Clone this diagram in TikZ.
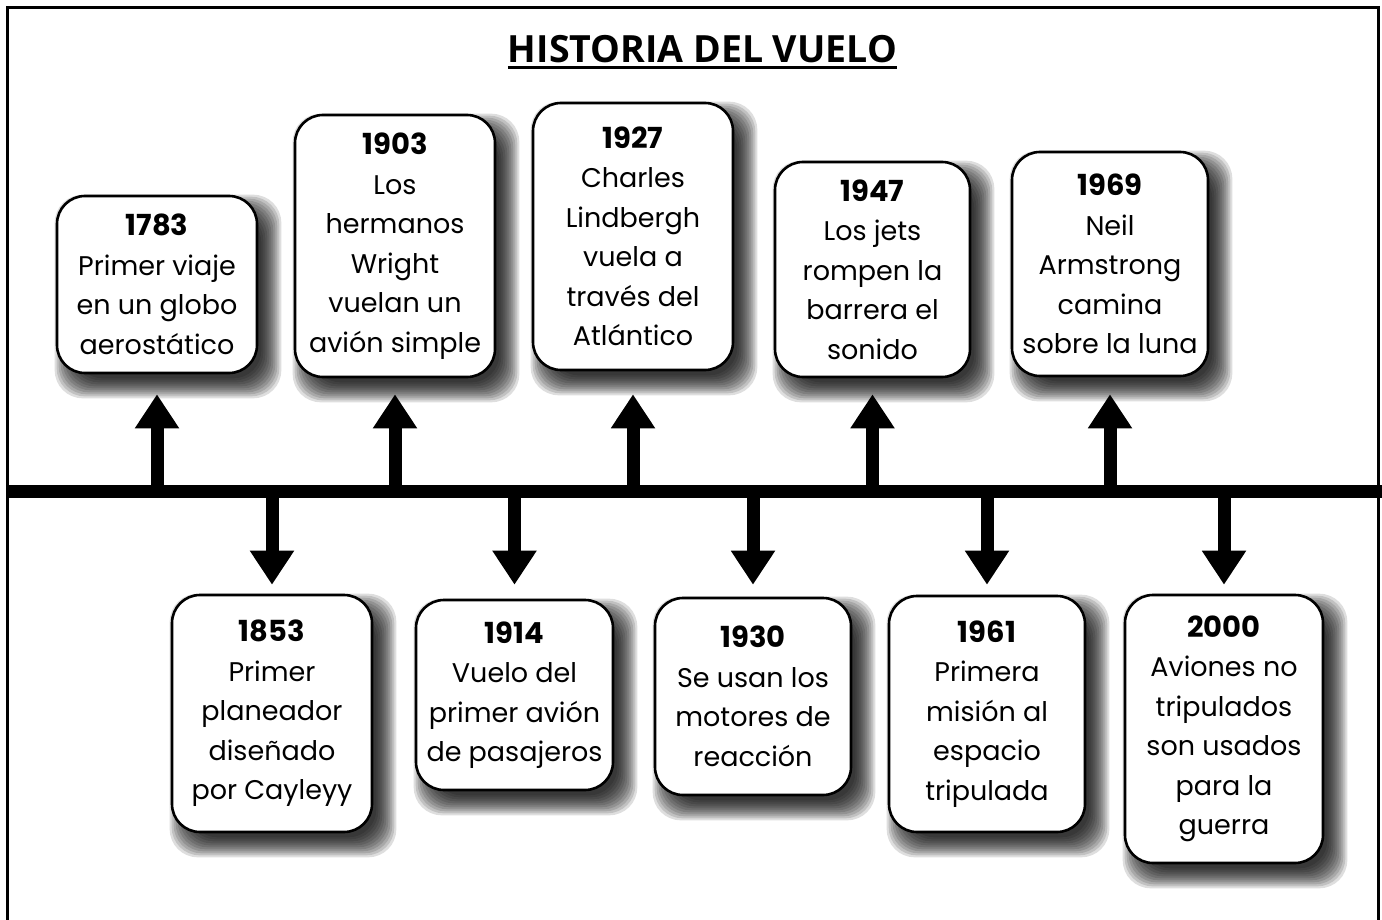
\documentclass[tikz,border=0pt]{standalone}
\usepackage{fontspec}
\setmainfont{Poppins}
\newfontfamily\titlefont{Open Sans}
\usetikzlibrary{arrows.meta}
\pgfdeclarelayer{bg}
\pgfsetlayers{bg,main}
\newcommand{\yr}[1]{{\fontsize{29}{39.5}\selectfont\bfseries #1}}
\begin{document}
\begin{tikzpicture}[x=1pt,y=-1pt,
  evbox/.style={draw=black, line width=2.6pt, fill=white, rounded corners=28pt,
    align=center, inner sep=0pt, font=\fontsize{27}{39.5}\selectfont},
  arr/.style={line width=13pt, -{Triangle[length=34pt,width=42pt]}},
  frame/.style={line width=3pt},
  tline/.style={line width=13pt},
  shadowlayer/.style={fill=black, opacity=0.13, rounded corners=28pt}
]
\useasboundingbox (0,0) rectangle (1382,920);
\draw[frame] (7.5,925) -- (7.5,7.5) -- (1378,7.5) -- (1378,925);

\node[font=\titlefont\bfseries\fontsize{37.5}{45}\selectfont, inner sep=0pt, anchor=base] (title) at (702.5,63) {HISTORIA DEL VUELO};
\draw[line width=3pt] ([yshift=-5pt]title.base west) -- ([yshift=-5pt]title.base east);

\coordinate (tlL) at (7,491);
\coordinate (tlR) at (1382,491);

% upper boxes
\node[evbox, minimum width=200pt, minimum height=177pt] (b1783) at (157,284.5)
  {\yr{1783}\\Primer viaje\\en un globo\\aerostático};
\node[evbox, minimum width=200pt, minimum height=262pt] (b1903) at (395,246)
  {\yr{1903}\\Los\\hermanos\\Wright\\vuelan un\\avión simple};
\node[evbox, minimum width=200pt, minimum height=267pt] (b1927) at (633,236.5)
  {\yr{1927}\\Charles\\Lindbergh\\vuela a\\través del\\Atlántico};
\node[evbox, minimum width=195pt, minimum height=215pt] (b1947) at (872.5,269.5)
  {\yr{1947}\\Los jets\\rompen la\\barrera el\\sonido};
\node[evbox, minimum width=196pt, minimum height=224pt] (b1969) at (1110,264)
  {\yr{1969}\\Neil\\Armstrong\\camina\\sobre la luna};

% lower boxes
\node[evbox, minimum width=200pt, minimum height=237pt] (b1853) at (272,713.5)
  {\yr{1853}\\Primer\\planeador\\diseñado\\por Cayleyy};
\node[evbox, minimum width=197pt, minimum height=190pt] (b1914) at (514.5,695)
  {\yr{1914}\\Vuelo del\\primer avión\\de pasajeros};
\node[evbox, minimum width=196pt, minimum height=197pt] (b1930) at (753,696.5)
  {\yr{1930}\\Se usan los\\motores de\\reacción};
\node[evbox, minimum width=196pt, minimum height=236pt] (b1961) at (987,714)
  {\yr{1961}\\Primera\\misión al\\espacio\\tripulada};
\node[evbox, minimum width=198pt, minimum height=268pt] (b2000) at (1224,729)
  {\yr{2000}\\Aviones no\\tripulados\\son usados\\para la\\guerra};

\begin{pgfonlayer}{bg}
\foreach \n in {b1783,b1903,b1927,b1947,b1969,b1853,b1914,b1930,b1961,b2000}{
  \foreach \e in {-8,-6,...,12}{
    \fill[shadowlayer] ([shift={(11-\e,12-\e)}]\n.north west) rectangle ([shift={(11+\e,12+\e)}]\n.south east);
  }
}
\end{pgfonlayer}

\draw[tline] (tlL) -- (tlR);

\draw[arr, shorten >=20pt] (b1783.south |- tlL) -- (b1783.south);
\draw[arr, shorten >=16pt] (b1903.south |- tlL) -- (b1903.south);
\draw[arr, shorten >=23pt] (b1927.south |- tlL) -- (b1927.south);
\draw[arr, shorten >=16pt] (b1947.south |- tlL) -- (b1947.south);
\draw[arr, shorten >=17pt] (b1969.south |- tlL) -- (b1969.south);

\draw[arr, shorten >=9pt] (b1853.north |- tlL) -- (b1853.north);
\draw[arr, shorten >=14pt] (b1914.north |- tlL) -- (b1914.north);
\draw[arr, shorten >=12pt] (b1930.north |- tlL) -- (b1930.north);
\draw[arr, shorten >=10pt] (b1961.north |- tlL) -- (b1961.north);
\draw[arr, shorten >=9pt] (b2000.north |- tlL) -- (b2000.north);
\end{tikzpicture}
\end{document}
